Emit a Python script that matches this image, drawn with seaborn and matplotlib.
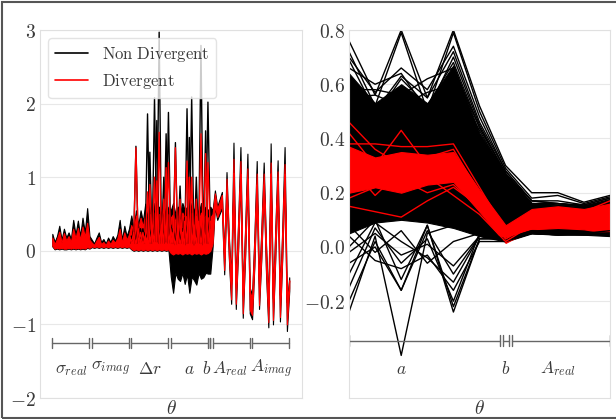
import numpy as np
import pandas as pd
import matplotlib
matplotlib.use('Agg')
import matplotlib.pyplot as plt
import seaborn as sns
from matplotlib.lines import Line2D
from matplotlib.patches import Rectangle
from matplotlib.ticker import FixedLocator, FuncFormatter

# ---- parameter groups (left panel: all parameters, right panel: a, b, A_real) ----
left_groups = [r'$\sigma_{real}$', r'$\sigma_{imag}$', r'$\Delta r$', r'$a$', r'$b$',
               r'$A_{real}$', r'$A_{imag}$']
left_sizes = [17, 17, 17, 17, 1, 17, 17]
left_label_at = [8, 25, 42, 59, 66.6, 76.6, 94]

# left panel: spread of the non divergent (black) and divergent (red) samples per dimension
# order: sigma_real | sigma_imag | dr | a | b | A_real | A_imag
blk_hi = ([0.23, 0.12, 0.20, 0.34, 0.15, 0.30, 0.18, 0.25, 0.16, 0.42, 0.22, 0.41, 0.20, 0.45, 0.25, 0.58, 0.20]
          + [0.15, 0.10, 0.18, 0.25, 0.12, 0.16, 0.10, 0.18, 0.12, 0.20, 0.14, 0.22, 0.42, 0.15, 0.34, 0.20, 0.30]
          + [0.48, 0.30, 0.55, 0.35, 0.55, 0.40, 0.64, 0.45, 0.60, 0.40, 0.65, 0.45, 0.60, 0.40, 0.60, 0.45, 0.60]
          + [0.55, 0.65, 0.50, 0.60, 0.50, 0.65, 0.55, 0.60, 0.50, 0.65, 0.55, 0.60, 0.50, 0.65, 0.55, 0.60, 0.55]
          + [0.60]
          + [0.55, 0.82, 0.60, 0.70, 0.80, -0.05, 1.07, 0.20, -0.40, 1.47, -0.45, 0.40, 1.41, -0.55, 0.30, 1.32, -0.50]
          + [-0.60, 0.20, 1.22, -0.45, 0.30, 1.20, 0.10, -0.70, 1.46, -0.65, 0.30, 1.23, -0.60, 0.30, 1.41, -0.70, -0.36])
blk_lo = ([0.06, 0.02, 0.03, 0.02, 0.03, 0.02, 0.02, 0.03, 0.02, 0.03, 0.02, 0.03, 0.02, 0.03, 0.02, 0.04, 0.03]
          + [0.05, 0.04, 0.05, 0.04, 0.05, 0.04, 0.05, 0.04, 0.05, 0.04, 0.05, 0.04, 0.05, 0.04, 0.05, 0.04, 0.05]
          + [0.02, 0.00, 0.01, 0.00, 0.01, 0.00, 0.01, 0.00, 0.01, 0.00, 0.01, 0.00, 0.01, 0.00, 0.01, 0.00, 0.01]
          + [-0.35, -0.57, -0.30, -0.38, -0.41, -0.30, -0.45, -0.32, -0.57, -0.35, -0.40, -0.46, -0.30, -0.38, -0.36, -0.30, -0.31]
          + [-0.31]
          + [0.05, 0.60, 0.42, 0.50, 0.58, -0.32, 0.75, -0.10, -0.72, 1.00, -0.79, 0.00, 1.00, -0.91, -0.10, 0.95, -0.85]
          + [-0.93, -0.20, 0.85, -0.79, -0.10, 0.85, -0.30, -1.04, 1.00, -1.00, -0.10, 0.90, -0.96, -0.10, 1.00, -1.09, -0.55])
red_hi = ([0.18, 0.09, 0.16, 0.26, 0.11, 0.24, 0.14, 0.20, 0.12, 0.30, 0.17, 0.31, 0.15, 0.33, 0.19, 0.38, 0.15]
          + [0.11, 0.08, 0.14, 0.19, 0.09, 0.12, 0.08, 0.14, 0.09, 0.15, 0.11, 0.17, 0.30, 0.11, 0.25, 0.15, 0.22]
          + [0.35, 0.25, 0.48, 0.30, 0.45, 0.33, 0.50, 0.38, 0.50, 0.33, 0.52, 0.38, 0.50, 0.33, 0.50, 0.38, 0.50]
          + [0.45, 0.50, 0.40, 0.48, 0.40, 0.52, 0.45, 0.48, 0.40, 0.52, 0.45, 0.48, 0.40, 0.52, 0.45, 0.48, 0.45]
          + [0.45]
          + [0.50, 0.78, 0.57, 0.66, 0.76, -0.10, 0.98, 0.15, -0.45, 1.25, -0.50, 0.35, 1.22, -0.60, 0.25, 1.12, -0.55]
          + [-0.65, 0.15, 1.05, -0.50, 0.25, 1.05, 0.05, -0.75, 1.20, -0.70, 0.25, 1.08, -0.65, 0.25, 1.18, -0.75, -0.40])
red_lo = ([0.07, 0.03, 0.04, 0.03, 0.04, 0.03, 0.03, 0.04, 0.03, 0.04, 0.03, 0.04, 0.03, 0.04, 0.03, 0.05, 0.04]
          + [0.06, 0.05, 0.06, 0.05, 0.06, 0.05, 0.06, 0.05, 0.06, 0.05, 0.06, 0.05, 0.06, 0.05, 0.06, 0.05, 0.06]
          + [0.03, 0.01, 0.02, 0.01, 0.02, 0.01, 0.02, 0.01, 0.02, 0.01, 0.02, 0.01, 0.02, 0.01, 0.02, 0.01, 0.02]
          + [-0.03, -0.05, -0.03, -0.04, -0.03, -0.05, -0.03, -0.04, -0.03, -0.05, -0.03, -0.04, -0.03, -0.05, -0.03, -0.04, -0.03]
          + [0.00]
          + [0.10, 0.63, 0.46, 0.54, 0.62, -0.26, 0.80, -0.05, -0.66, 1.05, -0.72, 0.05, 1.04, -0.85, -0.05, 0.98, -0.80]
          + [-0.87, -0.15, 0.90, -0.74, -0.05, 0.90, -0.25, -0.97, 1.05, -0.94, -0.05, 0.94, -0.90, -0.05, 1.04, -1.00, -0.50])

# tall spikes over dr, a and b (dimensions 34..68)
spike_start = 34
blk_spikes_1 = [0.20, 0.10, 1.42, 0.10, 0.30, 0.10, 0.25, 0.15, 1.34, 0.10, 2.08, 0.12, 2.97, 0.10, 1.00, 0.12, 1.88, 0.10,
                0.30, 0.08, 0.40, 0.10, 0.30, 0.08, 1.93, 0.10, 2.09, 0.08, 1.00, 0.10, 2.79, 0.08, 1.63, 0.10, 0.50]
blk_spikes_2 = [0.10, 0.30, 0.10, 0.35, 0.12, 0.30, 0.10, 1.86, 0.10, 0.35, 0.12, 1.77, 0.10, 0.40, 0.10, 1.59, 0.10, 0.35,
                0.10, 1.47, 0.10, 0.88, 0.10, 0.45, 0.10, 1.54, 0.10, 0.40, 0.10, 0.45, 0.10, 0.40, 0.10, 2.02, 0.30]
red_spikes_1 = [0.15, 0.08, 1.40, 0.08, 0.25, 0.08, 0.20, 0.12, 0.90, 0.08, 1.00, 0.10, 1.61, 0.08, 0.70, 0.10, 1.20, 0.08,
                0.25, 0.06, 0.30, 0.08, 0.25, 0.06, 1.22, 0.08, 1.00, 0.06, 0.70, 0.08, 1.59, 0.06, 1.32, 0.08, 0.40]
red_spikes_2 = [0.08, 0.25, 0.08, 0.30, 0.10, 0.25, 0.08, 0.80, 0.08, 0.30, 0.10, 0.95, 0.08, 0.35, 0.08, 1.13, 0.08, 0.30,
                0.08, 1.40, 0.08, 0.70, 0.08, 0.40, 0.08, 1.00, 0.08, 0.35, 0.08, 0.40, 0.08, 0.35, 0.08, 1.20, 0.25]

# right panel: a (6 dims), b (1 dim), A_real (4 dims)
right_groups = [r'$a$', r'$b$', r'$A_{real}$']
right_bounds = [(0, 5.77), (5.885, 6.115), (6.23, 10)]
right_label_at = [2, 6, 8]

r_blk_hi = [0.64, 0.53, 0.60, 0.53, 0.67, 0.42, 0.27, 0.16, 0.155, 0.15, 0.175]
r_blk_lo = [0.05, 0.09, 0.10, 0.09, 0.07, 0.04, 0.02, 0.05, 0.045, 0.045, 0.04]
r_red_hi = [0.37, 0.33, 0.35, 0.34, 0.35, 0.21, 0.08, 0.14, 0.15, 0.14, 0.16]
r_red_lo = [0.20, 0.22, 0.20, 0.23, 0.24, 0.13, 0.015, 0.065, 0.07, 0.065, 0.05]

r_blk_lines = [
    [0.76, 0.56, 0.80, 0.55, 0.80, 0.52, 0.30, 0.20, 0.20, 0.165, 0.19],
    [0.72, 0.52, 0.79, 0.50, 0.79, 0.50, 0.29, 0.18, 0.19, 0.16, 0.185],
    [0.70, 0.57, 0.66, 0.58, 0.74, 0.48, 0.28, 0.17, 0.17, 0.155, 0.18],
    [0.69, 0.50, 0.63, 0.55, 0.72, 0.46, 0.28, 0.17, 0.16, 0.155, 0.18],
    [0.66, 0.60, 0.64, 0.50, 0.70, 0.45, 0.27, 0.16, 0.16, 0.15, 0.17],
    [0.58, 0.58, 0.56, 0.62, 0.66, 0.44, 0.27, 0.16, 0.16, 0.15, 0.175],
    [0.62, 0.48, 0.62, 0.52, 0.68, 0.44, 0.27, 0.17, 0.16, 0.15, 0.17],
    [0.55, 0.56, 0.52, 0.57, 0.60, 0.43, 0.26, 0.16, 0.155, 0.15, 0.17],
    [-0.24, 0.04, -0.40, 0.05, 0.08, 0.06, 0.03, 0.06, 0.05, 0.05, 0.06],
    [-0.20, 0.02, -0.16, 0.08, -0.24, 0.03, 0.03, 0.05, 0.045, 0.05, 0.05],
    [-0.15, 0.07, -0.06, 0.03, -0.20, 0.05, 0.03, 0.055, 0.05, 0.045, 0.05],
    [-0.06, 0.00, -0.16, 0.06, -0.10, 0.04, 0.025, 0.05, 0.05, 0.045, 0.045],
    [0.04, -0.05, -0.08, -0.03, -0.16, 0.02, 0.02, 0.05, 0.045, 0.05, 0.045],
    [-0.10, 0.09, 0.02, -0.04, -0.13, 0.04, 0.03, 0.06, 0.05, 0.05, 0.05],
    [0.00, 0.10, -0.12, 0.08, -0.22, 0.03, 0.03, 0.05, 0.045, 0.05, 0.05],
    [0.08, -0.02, 0.06, -0.06, 0.02, 0.05, 0.03, 0.05, 0.05, 0.05, 0.05],
    [-0.02, 0.05, -0.03, 0.01, -0.07, 0.04, 0.03, 0.05, 0.045, 0.045, 0.05],
]
r_red_lines = [
    [0.46, 0.36, 0.30, 0.33, 0.36, 0.20, 0.05, 0.12, 0.13, 0.12, 0.15],
    [0.42, 0.30, 0.24, 0.28, 0.30, 0.17, 0.04, 0.10, 0.12, 0.11, 0.14],
    [0.38, 0.38, 0.37, 0.37, 0.38, 0.22, 0.06, 0.13, 0.14, 0.13, 0.17],
    [0.26, 0.30, 0.43, 0.30, 0.32, 0.19, 0.05, 0.11, 0.12, 0.12, 0.15],
    [0.15, 0.13, 0.11, 0.17, 0.22, 0.15, 0.03, 0.09, 0.10, 0.10, 0.12],
    [0.30, 0.19, 0.28, 0.26, 0.19, 0.12, 0.02, 0.08, 0.09, 0.08, 0.10],
    [0.18, 0.22, 0.25, 0.20, 0.23, 0.14, 0.03, 0.08, 0.09, 0.09, 0.11],
    [0.34, 0.27, 0.32, 0.29, 0.33, 0.19, 0.05, 0.12, 0.13, 0.12, 0.14],
]


def long_form(lines, start=0):
    rows = []
    for k, vals in enumerate(lines):
        for j, v in enumerate(vals):
            rows.append({'line': k, 'dim': start + j, 'value': v})
    return pd.DataFrame(rows)


sns.set_theme(style='whitegrid')
plt.rcParams['mathtext.fontset'] = 'cm'
plt.rcParams['font.family'] = ['DejaVu Sans']

BLACK = '#000000'
RED = '#ff0000'
label_col = '#3a3a3a'
bracket_col = '#666666'

fig = plt.figure(figsize=(6.16, 4.19), dpi=100)
ax1 = fig.add_axes([40 / 616, 21 / 419, 262 / 616, 368 / 419])
ax2 = fig.add_axes([349 / 616, 21 / 419, 261 / 616, 368 / 419])

# ---------------- left panel ----------------
x = np.arange(len(blk_hi))
ax1.fill_between(x, blk_lo, blk_hi, facecolor=BLACK, edgecolor=BLACK, lw=0.8)
sns.lineplot(data=long_form([blk_spikes_1, blk_spikes_2], spike_start), x='dim', y='value',
             units='line', estimator=None, color=BLACK, lw=1.0, ax=ax1)
ax1.fill_between(x, red_lo, red_hi, facecolor=RED, edgecolor=RED, lw=0.8)
sns.lineplot(data=long_form([red_spikes_1, red_spikes_2], spike_start), x='dim', y='value',
             units='line', estimator=None, color=RED, lw=1.0, ax=ax1)

start = 0
for name, n, lx in zip(left_groups, left_sizes, left_label_at):
    s, e = start, start + n - 1
    y0, h = -1.25, 0.07
    ax1.plot([s, e], [y0, y0], color=bracket_col, lw=1)
    ax1.plot([s, s], [y0 - h, y0 + h], color=bracket_col, lw=1)
    ax1.plot([e, e], [y0 - h, y0 + h], color=bracket_col, lw=1)
    ax1.text(lx, -1.6, name, ha='center', va='center', fontsize=12.5, color=label_col)
    start += n

ax1.set_xlim(-5.3, 107.5)
ax1.set_ylim(-2, 3)
ax1.yaxis.set_major_locator(FixedLocator([-2, -1, 0, 1, 2, 3]))
ax1.yaxis.set_major_formatter(FuncFormatter(lambda v, p: f'${v:.0f}$'))

handles = [Line2D([], [], color=BLACK, lw=1.2), Line2D([], [], color=RED, lw=1.2)]
ax1.legend(handles, [r'$\mathrm{Non\ Divergent}$', r'$\mathrm{Divergent}$'], loc='upper left',
           fontsize=12, frameon=True, framealpha=0.8, edgecolor='#dddddd', labelcolor=label_col)

# ---------------- right panel ----------------
xr = np.arange(len(r_blk_hi))
ax2.fill_between(xr, r_blk_lo, r_blk_hi, facecolor=BLACK, edgecolor=BLACK, lw=0.8)
sns.lineplot(data=long_form(r_blk_lines), x='dim', y='value', units='line', estimator=None,
             color=BLACK, lw=1.0, ax=ax2)
ax2.fill_between(xr, r_red_lo, r_red_hi, facecolor=RED, edgecolor=RED, lw=0.8)
sns.lineplot(data=long_form(r_red_lines), x='dim', y='value', units='line', estimator=None,
             color=RED, lw=1.0, ax=ax2)

for name, (s, e), lx in zip(right_groups, right_bounds, right_label_at):
    y0, h = -0.345, 0.02
    ax2.plot([s, e], [y0, y0], color=bracket_col, lw=1)
    ax2.plot([s, s], [y0 - h, y0 + h], color=bracket_col, lw=1)
    ax2.plot([e, e], [y0 - h, y0 + h], color=bracket_col, lw=1)
    ax2.text(lx, -0.45, name, ha='center', va='center', fontsize=12.5, color=label_col)

ax2.set_xlim(0, 10)
ax2.set_ylim(-0.557, 0.8)
ax2.yaxis.set_major_locator(FixedLocator([-0.2, 0.0, 0.2, 0.4, 0.6, 0.8]))
ax2.yaxis.set_major_formatter(FuncFormatter(lambda v, p: f'${round(v, 1) + 0.0:.1f}$'))

for ax in (ax1, ax2):
    ax.set_xticks([])
    ax.set_ylabel('')
    ax.set_xlabel(r'$\theta$', fontsize=14, color=label_col, labelpad=1)
    ax.grid(axis='y', color='#e8e8e8', lw=0.8)
    ax.grid(axis='x', visible=False)
    ax.tick_params(axis='y', labelsize=14, labelcolor=label_col, pad=3, length=0)
    for sp in ax.spines.values():
        sp.set_color('#e0e0e0')
        sp.set_linewidth(0.8)

fig.patches.append(Rectangle((0.004, 0.003), 1.0, 0.993, transform=fig.transFigure,
                             fill=False, edgecolor='#555555', lw=1.5))

fig.savefig('out.png', dpi=100)
